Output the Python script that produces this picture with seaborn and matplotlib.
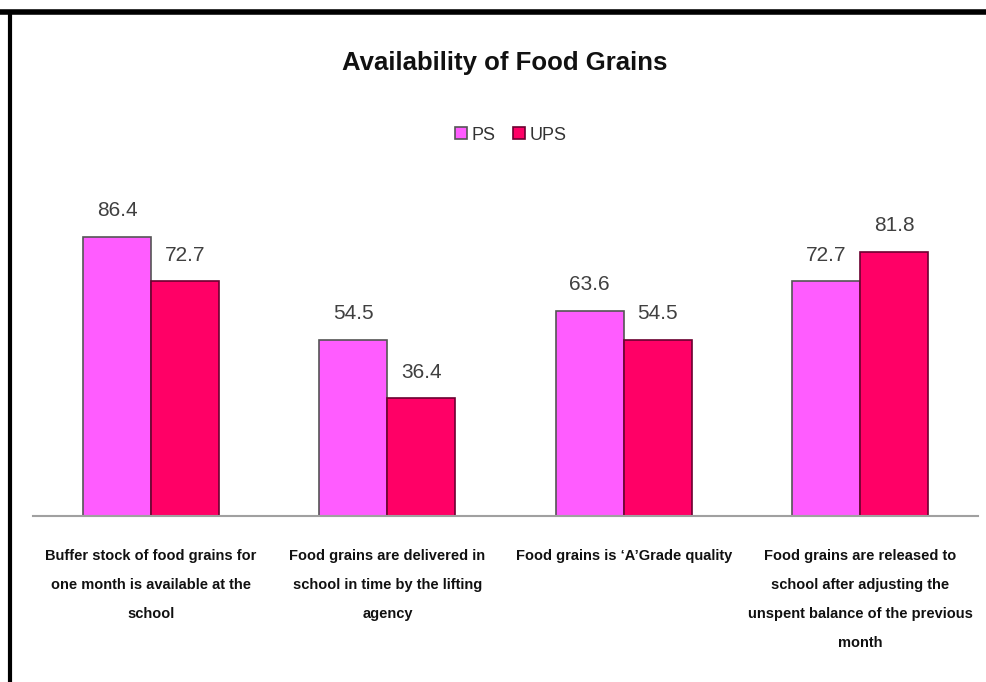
import pandas as pd
import matplotlib.pyplot as plt
import seaborn as sns
from matplotlib.lines import Line2D

# Chart data
categories = [
    'Buffer stock of food grains for\none month is available at the\nschool',
    'Food grains are delivered in\nschool in time by the lifting\nagency',
    'Food grains is \u2018A\u2019Grade quality',
    'Food grains are released to\nschool after adjusting the\nunspent balance of the previous\nmonth',
]
ps_values = [86.4, 54.5, 63.6, 72.7]
ups_values = [72.7, 36.4, 54.5, 81.8]
series_names = ['PS', 'UPS']
colors = ['#FF5CFF', '#FF0066']
edge_colors = ['#555555', '#6B0030']

sns.set_style('white')
plt.rcParams['font.family'] = ['Liberation Sans', 'DejaVu Sans']

# Long-form table for seaborn
df = pd.DataFrame({
    'Category': categories * 2,
    'Series': ['PS'] * len(categories) + ['UPS'] * len(categories),
    'Value': ps_values + ups_values,
})

fig = plt.figure(figsize=(9.87, 6.82), dpi=100)
ax = fig.add_axes([0.0334, 0.2434, 0.9576, 0.4736])

sns.barplot(data=df, x='Category', y='Value', hue='Series', order=categories,
            hue_order=series_names, palette=colors, width=0.576, ax=ax,
            legend=False, saturation=1)

# Edge colours per series and value labels
for cont, ec in zip(ax.containers, edge_colors):
    for bar in cont:
        bar.set_edgecolor(ec)
        bar.set_linewidth(1.2)
    ax.bar_label(cont, fmt='%.1f', padding=12, fontsize=15, color='#404040')

ax.set_ylim(0, 100)
ax.set_xlim(-0.5, len(categories) - 0.5)
ax.set_xlabel('')
ax.set_ylabel('')
ax.set_yticks([])
ax.tick_params(axis='x', length=0, pad=24)
ax.set_xticks(range(len(categories)))
ax.set_xticklabels(categories, fontsize=10.5, fontweight='bold', color='#111111',
                   linespacing=2.35, va='top')
for side in ['top', 'right', 'left']:
    ax.spines[side].set_visible(False)
ax.spines['bottom'].set_color('#A0A0A0')
ax.spines['bottom'].set_linewidth(1.5)

# Title and legend
fig.text(0.511, 0.907, 'Availability of Food Grains', ha='center', va='center',
         fontsize=18.5, fontweight='bold', color='#111111')
handles = [Line2D([], [], marker='s', linestyle='', markersize=9,
                  markerfacecolor=c, markeredgecolor=e, markeredgewidth=1.2)
           for c, e in zip(colors, edge_colors)]
fig.legend(handles, series_names, loc='center', bbox_to_anchor=(0.515, 0.802),
           ncol=2, frameon=False, fontsize=13, handletextpad=0.0,
           columnspacing=0.7, handlelength=1.2, labelcolor='#333333')

# Frame lines on the top and left edges
fig.add_artist(Line2D([0.0, 1.0], [0.982, 0.982], transform=fig.transFigure,
                      color='black', linewidth=4))
fig.add_artist(Line2D([0.0098, 0.0098], [0.0, 0.982], transform=fig.transFigure,
                      color='black', linewidth=3))

fig.savefig('out.png', dpi=100)
